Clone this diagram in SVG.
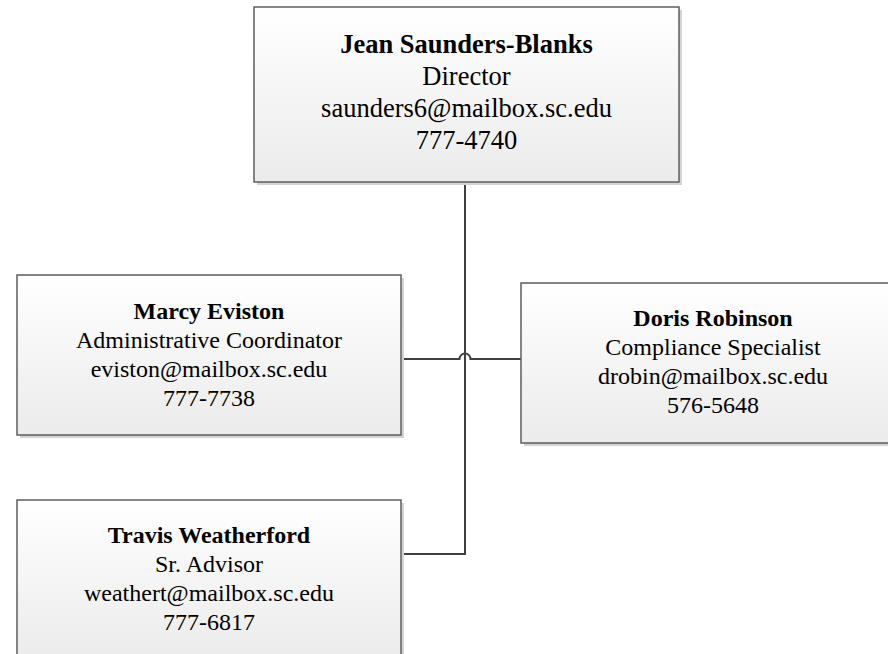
<svg xmlns="http://www.w3.org/2000/svg" width="888" height="654" viewBox="0 0 888 654">
<defs>
<linearGradient id="fill" x1="0" y1="0" x2="0" y2="1">
<stop offset="0" stop-color="#ffffff"/>
<stop offset="1" stop-color="#ebebeb"/>
</linearGradient>
<style>
.shadow{fill:#d4d4d4;}
.box{fill:url(#fill);stroke:#5e5e5e;stroke-width:1.5;}
.t{font-family:"Liberation Serif","Times New Roman",serif;fill:#000;text-anchor:middle;}
.big{font-size:26.5px;}
.sm{font-size:24px;}
.b{font-weight:bold;}
.conn{fill:none;stroke:#404040;stroke-width:2;}
</style>
</defs>
<rect width="888" height="654" fill="#ffffff"/>
<g id="connectors">
<path class="conn" d="M465,182 V554 H401"/>
<path class="conn" d="M401,359 H459.5 A5.5,5.5 0 0 1 470.5,359 H521"/>
</g>
<g id="node-director">
<rect class="shadow" x="257" y="10" width="425" height="175"/>
<rect class="box" x="254" y="7" width="425" height="175"/>
<text class="t big b" x="466.5" y="53">Jean Saunders-Blanks</text>
<text class="t big" x="466.5" y="85">Director</text>
<text class="t big" x="466.5" y="117">saunders6@mailbox.sc.edu</text>
<text class="t big" x="466.5" y="149">777-4740</text>
</g>
<g id="node-marcy">
<rect class="shadow" x="20" y="278" width="384" height="160"/>
<rect class="box" x="17" y="275" width="384" height="160"/>
<text class="t sm b" x="209" y="319">Marcy Eviston</text>
<text class="t sm" x="209" y="348">Administrative Coordinator</text>
<text class="t sm" x="209" y="377">eviston@mailbox.sc.edu</text>
<text class="t sm" x="209" y="406">777-7738</text>
</g>
<g id="node-doris">
<rect class="shadow" x="524" y="286" width="384" height="160"/>
<rect class="box" x="521" y="283" width="384" height="160"/>
<text class="t sm b" x="713" y="326">Doris Robinson</text>
<text class="t sm" x="713" y="355">Compliance Specialist</text>
<text class="t sm" x="713" y="384">drobin@mailbox.sc.edu</text>
<text class="t sm" x="713" y="413">576-5648</text>
</g>
<g id="node-travis">
<rect class="shadow" x="20" y="503" width="384" height="160"/>
<rect class="box" x="17" y="500" width="384" height="160"/>
<text class="t sm b" x="209" y="543">Travis Weatherford</text>
<text class="t sm" x="209" y="572">Sr. Advisor</text>
<text class="t sm" x="209" y="601">weathert@mailbox.sc.edu</text>
<text class="t sm" x="209" y="630">777-6817</text>
</g>
</svg>
